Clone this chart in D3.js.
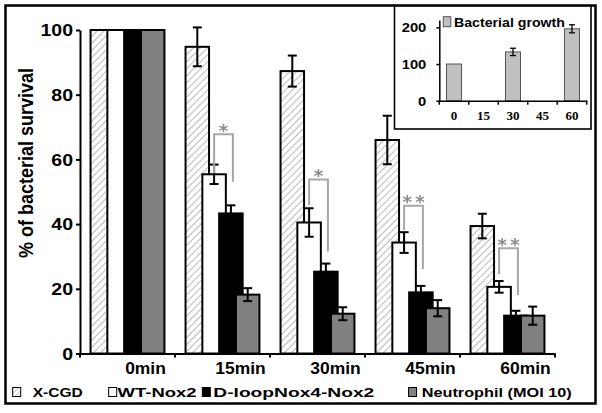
<!DOCTYPE html>
<html>
<head>
<meta charset="utf-8">
<script src="https://cdn.jsdelivr.net/npm/d3@7"></script>
<style>
  html, body { margin: 0; padding: 0; background: #fff; }
  svg { display: block; }
  text { font-family: "Liberation Sans", Arial, sans-serif; font-weight: bold; fill: #000; }
</style>
</head>
<body>
<svg id="chart" width="602" height="413"></svg>
<script>
// ---------------- data ----------------
const categories = ["0min", "15min", "30min", "45min", "60min"];
const seriesNames = ["X-CGD", "WT-Nox2", "D-loopNox4-Nox2", "Neutrophil (MOI 10)"];
const xcgdValues  = [100, 94.8, 87.3, 66.0, 39.4];
const xcgdErrors  = [0, 6.0, 4.8, 7.5, 3.8];
const wtValues    = [100, 55.4, 40.5, 34.3, 20.6];
const wtErrors    = [0, 3.0, 4.4, 3.2, 1.8];
const dloopValues = [100, 43.3, 25.3, 18.9, 11.7];
const dloopErrors = [0, 2.5, 2.5, 2.0, 1.5];
const neutValues  = [100, 18.2, 12.3, 14.0, 11.7];
const neutErrors  = [0, 2.0, 2.0, 2.5, 2.8];
const yTicks = [0, 20, 40, 60, 80, 100];

// significance annotations (values in % units)
const sigCategories = ["15min", "30min", "45min", "60min"];
const sigLabels = ["*", "*", "**", "**"];
const sigTop = [67.8, 53.8, 45.7, 32.5];
const sigLeftEnd = [55.8, 45.9, 38.2, 24.6];
const sigRightEnd = [53.1, 31.5, 26.1, 18.1];

// inset
const insetCategories = ["0", "15", "30", "45", "60"];
const insetLegend = "Bacterial growth";
const growthValues = [100, null, 133, null, 196];
const growthErrors = [0, null, 10, null, 11];
const insetYTicks = [0, 100, 200];

// ---------------- layout / styles ----------------
const svg = d3.select("#chart");
const seriesValues = [xcgdValues, wtValues, dloopValues, neutValues];
const seriesErrors = [xcgdErrors, wtErrors, dloopErrors, neutErrors];
const seriesFill = ["url(#hatch)", "#ffffff", "#000000", "#808080"];
const legendBoxX = [12.7, 108.7, 202.3, 408.5];
const legendTextX = [32.7, 117.6, 213.3, 421.7];
const legendTextW = [50, 79, 161, 150];

function stretch(sel, k) {
  sel.each(function () {
    const L = this.getComputedTextLength();
    d3.select(this).attr("textLength", L * k).attr("lengthAdjust", "spacingAndGlyphs");
  });
}

const defs = svg.append("defs");
const hp = defs.append("pattern").attr("id", "hatch").attr("patternUnits", "userSpaceOnUse")
  .attr("width", 5).attr("height", 5).attr("patternTransform", "rotate(45)");
hp.append("rect").attr("width", 5).attr("height", 5).attr("fill", "#fff");
hp.append("line").attr("x1", 0).attr("y1", 0).attr("x2", 0).attr("y2", 5)
  .attr("stroke", "#a8a8a8").attr("stroke-width", 1.6);
const hp2 = defs.append("pattern").attr("id", "hatchSmall").attr("patternUnits", "userSpaceOnUse")
  .attr("width", 3.5).attr("height", 3.5).attr("patternTransform", "rotate(45)");
hp2.append("rect").attr("width", 3.5).attr("height", 3.5).attr("fill", "#fff");
hp2.append("line").attr("x1", 0).attr("y1", 0).attr("x2", 0).attr("y2", 3.5)
  .attr("stroke", "#a0a0a0").attr("stroke-width", 1.2);

// outer frame
svg.append("rect").attr("x", 5.5).attr("y", 5.5).attr("width", 590).attr("height", 398)
  .attr("fill", "#fff").attr("stroke", "#000").attr("stroke-width", 2.5);

// ---------------- main chart ----------------
const x0 = d3.scaleBand().domain(categories).range([80, 555]);
const y = d3.scaleLinear().domain([0, 100]).range([353.5, 30]);
const barW = 23.5, step = 16.8;
const groupW = 3 * step + barW;
const barX = (ci, si) => x0(categories[ci]) + x0.bandwidth() / 2 - groupW / 2 + si * step;

const main = svg.append("g");
seriesValues.forEach((vals, si) => {
  const g = main.append("g");
  g.selectAll("rect").data(vals).join("rect")
    .attr("x", (d, i) => barX(i, si))
    .attr("y", d => y(d))
    .attr("width", barW)
    .attr("height", d => y(0) - y(d))
    .attr("fill", seriesFill[si])
    .attr("stroke", "#000").attr("stroke-width", 2);
  const errs = seriesErrors[si];
  const eg = g.append("g").attr("stroke", "#000").attr("stroke-width", 2);
  vals.forEach((v, i) => {
    const e = errs[i];
    if (!e) return;
    const cx = barX(i, si) + barW / 2;
    eg.append("line").attr("x1", cx).attr("x2", cx).attr("y1", y(v + e)).attr("y2", y(v - e));
    eg.append("line").attr("x1", cx - 4.5).attr("x2", cx + 4.5).attr("y1", y(v + e)).attr("y2", y(v + e));
    eg.append("line").attr("x1", cx - 4.5).attr("x2", cx + 4.5).attr("y1", y(v - e)).attr("y2", y(v - e));
  });
});

// significance brackets
const sg = main.append("g");
const starG = main.append("g").style("filter", "grayscale(1)");
sigCategories.forEach((c, k) => {
  const ci = categories.indexOf(c);
  const xl = barX(ci, 1) + barW / 2;
  const xr = barX(ci, 2) + barW / 2 + 2;
  sg.append("path")
    .attr("d", `M${xl},${y(sigLeftEnd[k])}V${y(sigTop[k])}H${xr}V${y(sigRightEnd[k])}`)
    .attr("fill", "none").attr("stroke", "#a6a6a6").attr("stroke-width", 2);
  const n = sigLabels[k].length;
  const mid = (xl + xr) / 2;
  for (let j = 0; j < n; j++) {
    starG.append("text")
      .attr("x", mid + (j - (n - 1) / 2) * 12.7)
      .attr("y", y(sigTop[k]) + 2.5)
      .attr("text-anchor", "middle")
      .style("font-family", "'DejaVu Sans', sans-serif")
      .style("font-weight", "bold")
      .style("font-size", "18px")
      .style("fill", "#8a8a8a")
      .text("*");
  }
});

// y axis
const yAxis = svg.append("g").attr("transform", "translate(80,0)")
  .call(d3.axisLeft(y).tickValues(yTicks).tickSize(4).tickSizeOuter(0).tickPadding(3));
yAxis.select(".domain").attr("stroke", "#000").attr("stroke-width", 2);
yAxis.selectAll(".tick line").attr("stroke", "#000").attr("stroke-width", 2);
yAxis.selectAll(".tick text").style("font-size", "16px").attr("font-family", null).attr("dy", "0.36em");
stretch(yAxis.selectAll(".tick text"), 1.22);

// x axis
const xAxis = svg.append("g").attr("transform", "translate(0,353.5)")
  .call(d3.axisBottom(x0).tickSize(0).tickSizeOuter(0).tickPadding(9));
xAxis.select(".domain").attr("stroke", "#000").attr("stroke-width", 2);
xAxis.selectAll(".tick text").style("font-size", "16px").attr("font-family", null)
  .attr("x", 18).attr("dy", "0.71em");
stretch(xAxis.selectAll(".tick text"), 1.09);
xAxis.selectAll(".bticks").data(categories.map(c => x0(c)).concat([x0.range()[1]]))
  .join("line").attr("class", "bticks")
  .attr("x1", d => d).attr("x2", d => d).attr("y1", 0).attr("y2", 4)
  .attr("stroke", "#000").attr("stroke-width", 2);

// y title
svg.append("text")
  .attr("transform", "translate(33,163) rotate(-90) scale(1,1.12)")
  .attr("text-anchor", "middle")
  .style("font-size", "17.5px")
  .attr("textLength", 190).attr("lengthAdjust", "spacingAndGlyphs")
  .text("% of bacterial survival");

// legend
const lg = svg.append("g");
seriesNames.forEach((name, i) => {
  lg.append("rect").attr("x", legendBoxX[i]).attr("y", 387.5).attr("width", 8).attr("height", 9)
    .attr("fill", i === 0 ? "url(#hatchSmall)" : seriesFill[i])
    .attr("stroke", "#000").attr("stroke-width", 1);
  lg.append("text").attr("x", legendTextX[i]).attr("y", 396.8)
    .style("font-size", "13px")
    .attr("textLength", legendTextW[i]).attr("lengthAdjust", "spacingAndGlyphs")
    .text(name);
});

// ---------------- inset ----------------
const inset = svg.append("g");
inset.append("rect").attr("x", 394.5).attr("y", 6).attr("width", 196.5).attr("height", 123)
  .attr("fill", "#fff").attr("stroke", "#000").attr("stroke-width", 1.6);
const ix = d3.scaleBand().domain(insetCategories).range([439.3, 586.7]).paddingInner(0.49).paddingOuter(0.245);
const iy = d3.scaleLinear().domain([0, 220]).range([100.7, 20]);

const gdata = growthValues.map((v, i) => ({ c: insetCategories[i], v, e: growthErrors[i] })).filter(d => d.v != null);
inset.selectAll(".gbar").data(gdata).join("rect").attr("class", "gbar")
  .attr("x", d => ix(d.c)).attr("y", d => iy(d.v))
  .attr("width", ix.bandwidth()).attr("height", d => iy(0) - iy(d.v))
  .attr("fill", "#c0c0c0").attr("stroke", "#555").attr("stroke-width", 1);
gdata.forEach(d => {
  if (!d.e) return;
  const cx = ix(d.c) + ix.bandwidth() / 2;
  const g = inset.append("g").attr("stroke", "#000").attr("stroke-width", 1.3);
  g.append("line").attr("x1", cx).attr("x2", cx).attr("y1", iy(d.v + d.e)).attr("y2", iy(d.v - d.e));
  g.append("line").attr("x1", cx - 3).attr("x2", cx + 3).attr("y1", iy(d.v + d.e)).attr("y2", iy(d.v + d.e));
  g.append("line").attr("x1", cx - 3).attr("x2", cx + 3).attr("y1", iy(d.v - d.e)).attr("y2", iy(d.v - d.e));
});

const iyAxis = inset.append("g").attr("transform", "translate(439.3,0)")
  .call(d3.axisLeft(iy).tickValues(insetYTicks).tickSize(3).tickSizeOuter(0).tickPadding(10));
iyAxis.select(".domain").attr("stroke", "#000").attr("stroke-width", 1.5);
iyAxis.selectAll(".tick line").attr("stroke", "#000").attr("stroke-width", 1.5);
iyAxis.selectAll(".tick text").style("font-size", "12.5px").attr("font-family", null).attr("dy", "0.36em");
stretch(iyAxis.selectAll(".tick text"), 1.18);

const ixAxis = inset.append("g").attr("transform", "translate(0,100.7)")
  .call(d3.axisBottom(ix).tickSize(0).tickSizeOuter(0).tickPadding(15));
ixAxis.select(".domain").attr("stroke", "#000").attr("stroke-width", 1.5);
ixAxis.selectAll(".tick text").style("font-size", "13px")
  .attr("font-family", null).style("font-family", "'Liberation Serif', 'Times New Roman', serif")
  .attr("dy", "0.36em");
const ib = insetCategories.map(c => ix(c) - ix.step() * 0.245).concat([ix.range()[1]]);
ixAxis.selectAll(".bticks").data(ib).join("line").attr("class", "bticks")
  .attr("x1", d => d).attr("x2", d => d).attr("y1", 0).attr("y2", 4)
  .attr("stroke", "#000").attr("stroke-width", 1.5);

inset.append("rect").attr("x", 443.3).attr("y", 16.7).attr("width", 7.5).attr("height", 10)
  .attr("fill", "#c0c0c0").attr("stroke", "#555").attr("stroke-width", 1);
inset.append("text").attr("x", 454).attr("y", 27)
  .style("font-size", "13px")
  .attr("textLength", 111).attr("lengthAdjust", "spacingAndGlyphs")
  .text(insetLegend);
</script>
</body>
</html>
